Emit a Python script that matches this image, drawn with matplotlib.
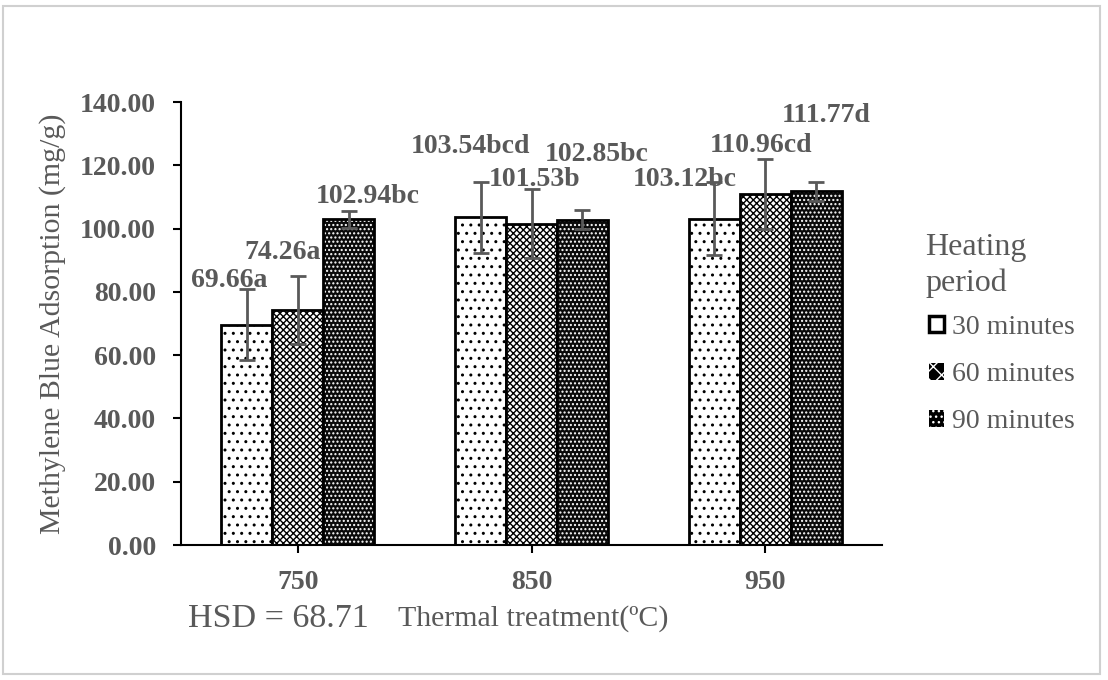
import numpy as np
import matplotlib.pyplot as plt
from matplotlib.patches import Rectangle

temps = ['750', '850', '950']
periods = ['30 minutes', '60 minutes', '90 minutes']
mb_30 = [69.66, 103.54, 103.12]
mb_60 = [74.26, 101.53, 110.96]
mb_90 = [102.94, 102.85, 111.77]
err_30 = [11.3, 11.3, 11.6]
err_60 = [10.8, 10.9, 11.0]
err_90 = [2.7, 3.0, 3.0]
letters_30 = ['a', 'bcd', 'bc']
letters_60 = ['a', 'b', 'cd']
letters_90 = ['bc', 'bc', 'd']

grey = '#595959'
plt.rcParams['font.family'] = ['Liberation Serif', 'DejaVu Serif']
plt.rcParams['hatch.linewidth'] = 1.0

fig = plt.figure(figsize=(11.08, 6.80), dpi=100)
ax = fig.add_axes([0.1634, 0.1985, 0.6326, 0.6515])

# light grey frame round the whole picture
fig.patches.append(Rectangle((0.003, 0.009), 0.990, 0.982, transform=fig.transFigure,
                             fill=False, edgecolor='#d0d0d0', linewidth=1.5))

x = np.arange(len(temps))
w = 0.218
vals = [mb_30, mb_60, mb_90]
errs = [err_30, err_60, err_90]
lets = [letters_30, letters_60, letters_90]
# label offsets (points) from the top of each error bar, [temp][period]
offs = [[(-13, 6), (-11, 17), (14, 10)],
        [(-7, 25), (2, 7), (10, 40)],
        [(-21, 2), (-3, 10), (7, 48)]]

for i in range(3):
    pos = x + (i - 1) * w
    if i == 0:
        ax.bar(pos, vals[i], w, color='white', edgecolor='black', hatch='..',
               linewidth=2, zorder=2)
    elif i == 1:
        ax.bar(pos, vals[i], w, color='white', edgecolor='black', hatch='xxxxx',
               linewidth=2, zorder=2)
    else:
        ax.bar(pos, vals[i], w, color='#0a0a0a', edgecolor='white', hatch='....',
               linewidth=0, zorder=2)
        ax.bar(pos, vals[i], w, fill=False, edgecolor='black', linewidth=2, zorder=3)
    ax.errorbar(pos, vals[i], yerr=errs[i], fmt='none', ecolor=grey, elinewidth=2,
                capsize=6, capthick=2, zorder=4)
    for j in range(3):
        ax.annotate(f'{vals[i][j]:.2f}{lets[i][j]}', (pos[j], vals[i][j] + errs[i][j]),
                    xytext=offs[j][i], textcoords='offset points', ha='center',
                    va='center', fontsize=20, fontweight='bold', color=grey)

handles = [Rectangle((0, 0), 1, 1, facecolor='white', edgecolor='black', linewidth=2.5),
           Rectangle((0, 0), 1, 1, facecolor='black', edgecolor='white', hatch='xx',
                     linewidth=0),
           Rectangle((0, 0), 1, 1, facecolor='black', edgecolor='white', hatch='...',
                     linewidth=0)]

ax.set_ylim(0, 140)
ax.set_xlim(-0.5, 2.5)
ax.set_yticks(np.arange(0, 141, 20))
ax.set_yticklabels([f'{v:.2f}' for v in np.arange(0, 141, 20)], fontsize=20,
                   fontweight='bold', color=grey)
ax.set_xticks(x)
ax.set_xticklabels(temps, fontsize=20, fontweight='bold', color=grey)
ax.tick_params(axis='both', length=6, width=1.5, direction='out')
ax.tick_params(axis='y', pad=12)
ax.tick_params(axis='x', pad=12)
for s in ['top', 'right']:
    ax.spines[s].set_visible(False)
for s in ['left', 'bottom']:
    ax.spines[s].set_linewidth(1.5)
ax.set_ylabel('Methylene Blue Adsorption (mg/g)', fontsize=21.5, color=grey, labelpad=10)

fig.text(0.359, 0.0897, 'Thermal treatment(ºC)', fontsize=21.5, color=grey, va='center')
fig.text(0.17, 0.0897, 'HSD = 68.71', fontsize=24.5, color=grey, va='center')

fig.text(0.835, 0.61, 'Heating\nperiod', fontsize=23, color=grey, va='center',
         linespacing=1.3)
leg = ax.legend(handles, periods, loc='upper left', bbox_to_anchor=(0.838, 0.537),
                bbox_transform=fig.transFigure, frameon=False, fontsize=20,
                labelcolor=grey, handlelength=0.55, handleheight=0.55,
                handletextpad=0.3, labelspacing=0.8, borderpad=0, borderaxespad=0)

fig.savefig('out.png', dpi=100)
